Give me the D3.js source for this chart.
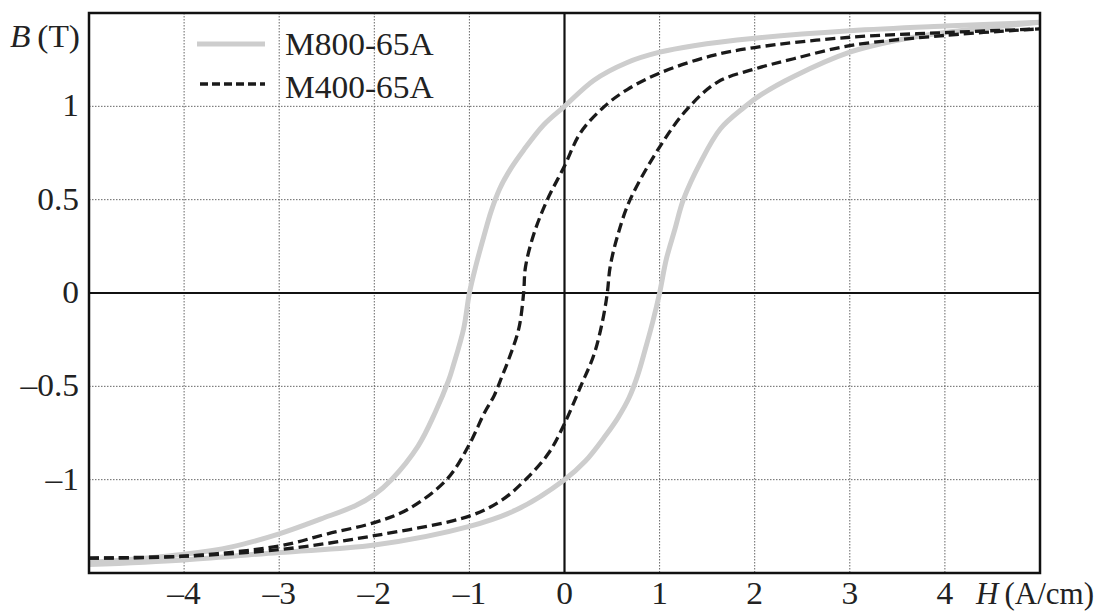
<!DOCTYPE html>
<html>
<head>
<meta charset="utf-8">
<script src="https://cdn.jsdelivr.net/npm/d3@7"></script>
<style>
  html, body { margin: 0; padding: 0; background: #fff; }
  svg { display: block; }
  text { font-family: "Liberation Serif", "Times New Roman", Times, serif; fill: #222; }
</style>
</head>
<body>
<svg id="chart" width="1099" height="611"></svg>
<script>
// ---- Data ----
const xTicks = [-4, -3, -2, -1, 0, 1, 2, 3, 4];
const yTicks = [-1, -0.5, 0, 0.5, 1];
const xTickLabels = ["\u20134", "\u20133", "\u20132", "\u20131", "0", "1", "2", "3", "4"];
const yTickLabels = ["\u20131", "\u20130.5", "0", "0.5", "1"];
const seriesNames = ["M800-65A", "M400-65A"];

// M800-65A descending (upper) branch
const m800UpperH = [-5, -4, -3.5, -3, -2.56, -2.2, -2.0, -1.82, -1.54, -1.36, -1.22, -1.17, -1.06, -1.0, -0.93, -0.85, -0.77, -0.68, -0.56, -0.43, -0.22, 0, 0.31, 0.66, 1.0, 1.36, 2, 3, 4, 5];
const m800UpperB = [-1.445, -1.40, -1.36, -1.29, -1.21, -1.14, -1.08, -1.0, -0.82, -0.64, -0.47, -0.39, -0.19, 0, 0.15, 0.3, 0.44, 0.56, 0.67, 0.765, 0.9, 1.0, 1.14, 1.235, 1.29, 1.325, 1.365, 1.405, 1.43, 1.45];
// M800-65A ascending (lower) branch
const m800LowerH = [-5, -4, -3, -2, -1, -0.5, 0, 0.22, 0.43, 0.56, 0.68, 0.77, 0.85, 0.93, 1.0, 1.07, 1.16, 1.25, 1.43, 1.64, 1.89, 2.06, 2.41, 3, 3.46, 4, 5];
const m800LowerB = [-1.455, -1.43, -1.39, -1.35, -1.25, -1.16, -1.0, -0.9, -0.765, -0.67, -0.56, -0.44, -0.3, -0.15, 0, 0.18, 0.34, 0.5, 0.70, 0.88, 0.995, 1.06, 1.16, 1.29, 1.35, 1.395, 1.45];

// M400-65A descending (upper) branch
const m400UpperH = [-5, -4, -3, -2.49, -2.0, -1.65, -1.24, -1.01, -0.84, -0.74, -0.66, -0.59, -0.48, -0.43, -0.41, -0.32, -0.18, 0, 0.17, 0.41, 0.66, 1.01, 1.54, 2, 3, 4, 5];
const m400UpperB = [-1.42, -1.41, -1.355, -1.29, -1.23, -1.16, -1.0, -0.82, -0.64, -0.55, -0.45, -0.36, -0.19, 0, 0.14, 0.32, 0.5, 0.68, 0.86, 0.995, 1.09, 1.18, 1.27, 1.315, 1.37, 1.395, 1.415];
// M400-65A ascending (lower) branch
const m400LowerH = [-5, -4, -3, -2, -1, -0.66, -0.41, -0.17, 0, 0.17, 0.31, 0.4, 0.45, 0.48, 0.56, 0.69, 1.01, 1.29, 1.61, 2, 2.41, 3, 4, 5];
const m400LowerB = [-1.42, -1.41, -1.375, -1.30, -1.195, -1.11, -1.0, -0.86, -0.70, -0.5, -0.33, -0.15, 0, 0.14, 0.31, 0.5, 0.79, 0.985, 1.13, 1.20, 1.255, 1.325, 1.38, 1.415];

// ---- Layout ----
const svg = d3.select("#chart");
const L = 89, R = 1040, T = 13, B = 573;
const FS = 31, SX = 1.08;
const x = d3.scaleLinear().domain([-5, 5]).range([L, R]);
const y = d3.scaleLinear().domain([-1.5, 1.5]).range([B, T]);

const zip = (hs, bs) => hs.map((h, i) => [h, bs[i]]);
const line = d3.line().x(d => x(d[0])).y(d => y(d[1])).curve(d3.curveCatmullRom.alpha(0.5));

function addText(parent, px, py, anchor, sx) {
  return parent.append("text")
    .attr("transform", `translate(${px},${py}) scale(${sx === undefined ? SX : sx},1)`)
    .attr("text-anchor", anchor).attr("font-size", FS);
}

// grid
const grid = svg.append("g");
grid.selectAll("line.v").data(xTicks.filter(t => t !== 0)).enter().append("line")
  .attr("x1", d => x(d)).attr("x2", d => x(d)).attr("y1", T).attr("y2", B)
  .attr("stroke", "#666").attr("stroke-width", 1).attr("stroke-dasharray", "1.5,1.5");
grid.selectAll("line.h").data(yTicks.filter(t => t !== 0)).enter().append("line")
  .attr("y1", d => y(d)).attr("y2", d => y(d)).attr("x1", L).attr("x2", R)
  .attr("stroke", "#666").attr("stroke-width", 1).attr("stroke-dasharray", "1.5,1.5");

// zero axes
svg.append("line").attr("x1", L).attr("x2", R).attr("y1", y(0)).attr("y2", y(0))
  .attr("stroke", "#111").attr("stroke-width", 2.2);
svg.append("line").attr("x1", x(0)).attr("x2", x(0)).attr("y1", T).attr("y2", B)
  .attr("stroke", "#111").attr("stroke-width", 2.2);

// curves
svg.append("clipPath").attr("id", "clip").append("rect")
  .attr("x", L).attr("y", T).attr("width", R - L).attr("height", B - T);
const curves = svg.append("g").attr("clip-path", "url(#clip)");
[[m800UpperH, m800UpperB], [m800LowerH, m800LowerB]].forEach(([h, b]) => {
  curves.append("path").attr("d", line(zip(h, b)))
    .attr("fill", "none").attr("stroke", "#cdcdcd").attr("stroke-width", 5);
});
[[m400UpperH, m400UpperB], [m400LowerH, m400LowerB]].forEach(([h, b]) => {
  curves.append("path").attr("d", line(zip(h, b)))
    .attr("fill", "none").attr("stroke", "#1a1a1a").attr("stroke-width", 3.3)
    .attr("stroke-dasharray", "10,5");
});

// frame
svg.append("rect").attr("x", L).attr("y", T).attr("width", R - L).attr("height", B - T)
  .attr("fill", "none").attr("stroke", "#111").attr("stroke-width", 2.5);

// tick labels
xTicks.forEach((d, i) => addText(svg, x(d), 604, "middle").text(xTickLabels[i]));
yTicks.forEach((d, i) => addText(svg, 79, y(d) + 10, "end").text(yTickLabels[i]));

// axis titles
const bt = addText(svg, 80, 47, "end");
bt.append("tspan").attr("font-style", "italic").text("B");
bt.append("tspan").text("\u2009(T)");
const ht = addText(svg, 1094, 604, "end", 1);
ht.append("tspan").attr("font-style", "italic").text("H");
ht.append("tspan").text("\u2009(A/cm)");

// legend
const lg = svg.append("g");
lg.append("line").attr("x1", 197).attr("x2", 265).attr("y1", 44).attr("y2", 44)
  .attr("stroke", "#cdcdcd").attr("stroke-width", 5);
lg.append("line").attr("x1", 200).attr("x2", 265).attr("y1", 84).attr("y2", 84)
  .attr("stroke", "#1a1a1a").attr("stroke-width", 3.3).attr("stroke-dasharray", "8,4");
addText(lg, 285, 55, "start").text(seriesNames[0]);
addText(lg, 285, 98, "start").text(seriesNames[1]);
</script>
</body>
</html>
